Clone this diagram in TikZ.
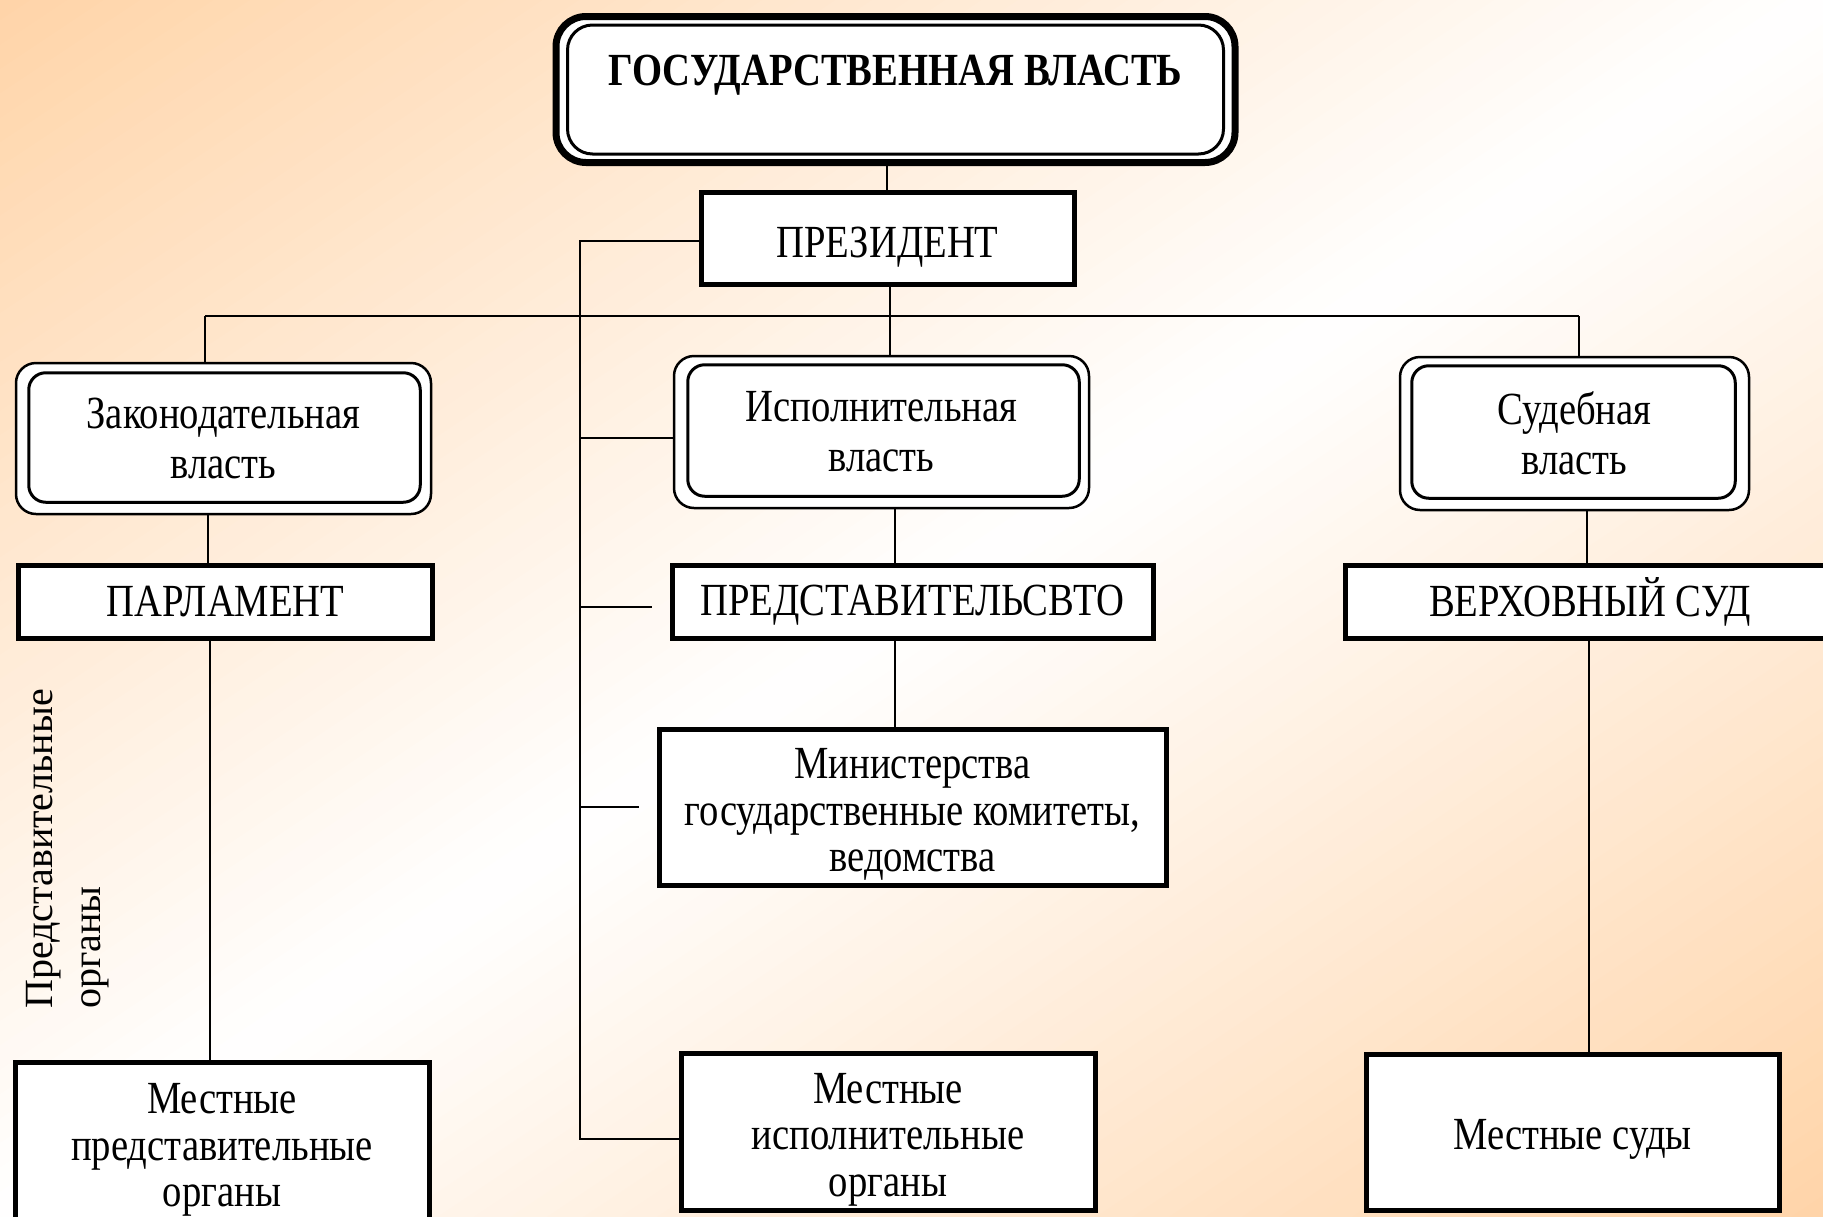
\documentclass[tikz,border=0pt]{standalone}
\usepackage{fontspec}
\setmainfont{Liberation Serif}[FakeStretch=0.84]
\newfontfamily\vertfont{Liberation Serif}
\newcommand\mainsize{\fontsize{46}{50}\selectfont}
\newcommand\threesize{\fontsize{46}{46.5}\selectfont}
\newcommand\tup[1]{\rule{0pt}{#1pt}}
\definecolor{peach}{RGB}{255,212,168}
\tikzset{
  conn/.style={line width=2pt},
  rbox/.style={draw, line width=5pt, fill=white, inner sep=0pt, align=center, font=\mainsize},
  rbox3/.style={rbox, font=\threesize},
  dbox/.style={draw, line width=2.5pt, rounded corners=20pt, fill=white, inner sep=0pt, align=center, font=\mainsize},
  innerline/.style={line width=3pt, rounded corners=17pt},
  topbox/.style={draw, line width=7pt, rounded corners=30pt, fill=white, inner sep=0pt},
  topinner/.style={line width=3pt, rounded corners=25pt}
}
\begin{document}
\begin{tikzpicture}[x=1pt,y=-1pt]
\useasboundingbox (0,0) rectangle (1823,1216);
% background: diagonal gradient peach - white - peach
\begin{scope}
  \clip (0,0) rectangle (1823,1216);
  \fill[white] (0,0) rectangle (1823,1216);
  \foreach \i in {0,...,99} {
    \pgfmathsetmacro\dA{-1015 + \i*20.3}
    \pgfmathsetmacro\dB{\dA + 21.5}
    \pgfmathsetmacro\tt{abs((\i+0.5)/50 - 1)*100}
    \pgfmathsetmacro\xa{911.5 + \dA*0.555 - 1250*0.832}
    \pgfmathsetmacro\ya{608 + \dA*0.832 + 1250*0.555}
    \pgfmathsetmacro\xb{911.5 + \dA*0.555 + 1250*0.832}
    \pgfmathsetmacro\yb{608 + \dA*0.832 - 1250*0.555}
    \pgfmathsetmacro\xc{911.5 + \dB*0.555 + 1250*0.832}
    \pgfmathsetmacro\yc{608 + \dB*0.832 - 1250*0.555}
    \pgfmathsetmacro\xd{911.5 + \dB*0.555 - 1250*0.832}
    \pgfmathsetmacro\yd{608 + \dB*0.832 + 1250*0.555}
    \fill[peach!\tt!white] (\xa,\ya) -- (\xb,\yb) -- (\xc,\yc) -- (\xd,\yd) -- cycle;
  }
\end{scope}

% top box
\node[topbox, minimum width=679pt, minimum height=146pt] (gov) at (895.5,89.5) {};
\draw[topinner] ([xshift=15pt,yshift=12pt]gov.south west) rectangle ([xshift=-15pt,yshift=-12pt]gov.north east);
\node[font=\mainsize\bfseries, inner sep=0pt] (govt) at (895.5,75) {ГОСУДАРСТВЕННАЯ ВЛАСТЬ};

% president
\node[rbox, minimum width=373pt, minimum height=92pt] (P) at (887.5,238) {\tup{48}ПРЕЗИДЕНТ};

% second level
\node[dbox, minimum width=415pt, minimum height=151pt] (L1) at (223.5,438.5) {Законодательная\\власть};
\draw[innerline] ([xshift=14pt,yshift=13pt]L1.south west) rectangle ([xshift=-12pt,yshift=-11pt]L1.north east);
\node[dbox, minimum width=415pt, minimum height=152pt] (E1) at (881.5,432) {Исполнительная\\власть};
\draw[innerline] ([xshift=15pt,yshift=13pt]E1.south west) rectangle ([xshift=-11pt,yshift=-10pt]E1.north east);
\node[dbox, minimum width=349pt, minimum height=153pt] (J1) at (1574.5,433.5) {Судебная\\власть};
\draw[innerline] ([xshift=13pt,yshift=13pt]J1.south west) rectangle ([xshift=-15pt,yshift=-10pt]J1.north east);

% third level
\node[rbox, minimum width=414pt, minimum height=73pt] (Pa) at (225.5,601.5) {ПАРЛАМЕНТ};
\node[rbox, minimum width=481pt, minimum height=73pt] (R) at (912.5,601.5) {\tup{38}ПРЕДСТАВИТЕЛЬСВТО};
\node[rbox, minimum width=490pt, minimum height=73pt] (V) at (1590,601.5) {ВЕРХОВНЫЙ СУД};

\node[rbox3, minimum width=507pt, minimum height=156pt] (M) at (912.5,807) {\tup{45}Министерства\\государственные комитеты,\\ведомства};

% bottom level
\node[rbox3, minimum width=414pt, minimum height=166pt] (LP) at (222,1145) {\tup{40.5}Местные\\представительные\\органы};
\node[rbox3, minimum width=414pt, minimum height=157pt] (LE) at (888,1131.5) {\tup{46.5}Местные\\исполнительные\\органы};
\node[rbox3, minimum width=413pt, minimum height=156pt] (LC) at (1572.5,1132) {\tup{45}Местные суды};

% vertical label
\node[rotate=90, anchor=north west, inner sep=0pt, align=left, font=\vertfont\fontsize{40}{48}\selectfont] (vt) at (26,1009) {Представительные\\органы};

% helper coordinates
\coordinate (xG) at (887,0);
\coordinate (xE) at (890,0);
\coordinate (xL) at (205,0);
\coordinate (xJ) at (1579,0);
\coordinate (xL2) at (208,0);
\coordinate (xE2) at (895,0);
\coordinate (xJ2) at (1587,0);
\coordinate (xL3) at (210,0);
\coordinate (xJ3) at (1589,0);
\coordinate (busL) at (205,316);
\coordinate (busR) at (1579,316);
\coordinate (busM) at (890,316);

% connectors
\draw[conn] (xG |- P.north) -- (xG |- gov.south);
\draw[conn] (busL) -- (busR);
\draw[conn] (xE |- P.south) -- (busM) -- (xE |- E1.north);
\draw[conn] (busL) -- (xL |- L1.north);
\draw[conn] (busR) -- (xJ |- J1.north);
\draw[conn] (xL2 |- L1.south) -- (xL2 |- Pa.north);
\draw[conn] (xE2 |- E1.south) -- (xE2 |- R.north);
\draw[conn] (xJ2 |- J1.south) -- (xJ2 |- V.north);
\draw[conn] (xL3 |- Pa.south) -- (xL3 |- LP.north);
\draw[conn] (xE2 |- R.south) -- (xE2 |- M.north);
\draw[conn] (xJ3 |- V.south) -- (xJ3 |- LC.north);

% left executive spine
\coordinate (sTop) at (580,241);
\coordinate (sBot) at (580,1139);
\coordinate (sE) at (580,438);
\coordinate (sR) at (580,607);
\coordinate (sM) at (580,807);
\coordinate (rEnd) at (652,607);
\coordinate (mEnd) at (639,807);
\draw[conn] (P.west |- sTop) -- (sTop) -- (sBot) -- (sBot -| LE.west);
\draw[conn] (sE) -- (sE -| E1.west);
\draw[conn] (sR) -- (rEnd);
\draw[conn] (sM) -- (mEnd);
\end{tikzpicture}
\end{document}
